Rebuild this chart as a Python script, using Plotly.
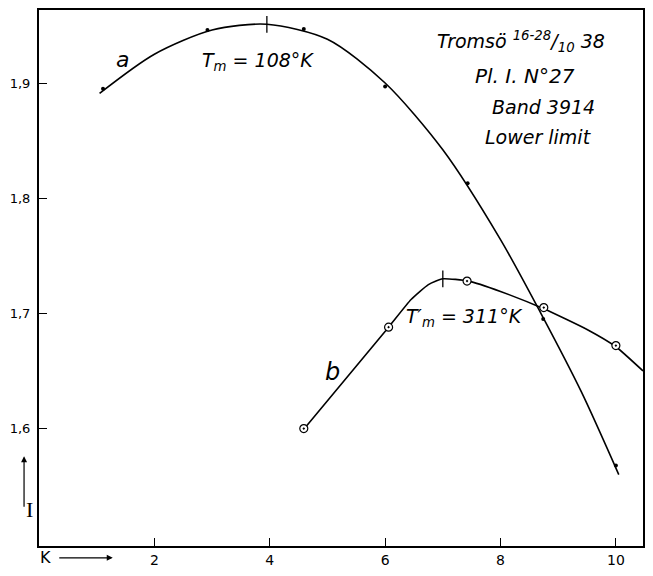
import plotly.graph_objects as go

# ---- data ----
# curve a (smooth drawn curve) and its measured points
a_curve_x = [1.05, 2.0, 3.0, 3.95, 5.0, 6.0, 7.0, 8.0, 8.7, 9.4, 10.05]
a_curve_y = [1.891, 1.925, 1.946, 1.951, 1.938, 1.900, 1.842, 1.764, 1.700, 1.632, 1.560]
a_pts_x = [1.11, 2.92, 4.59, 6.0, 7.43, 8.74, 10.0]
a_pts_y = [1.895, 1.946, 1.947, 1.897, 1.813, 1.695, 1.568]
a_max_x = [3.95]
a_max_y = [1.951]

# curve b (smooth drawn curve) and its measured points
b_curve_x = [4.55, 6.06, 6.45, 6.75, 7.0, 7.45, 8.0, 8.75, 9.5, 10.0, 10.47]
b_curve_y = [1.597, 1.688, 1.712, 1.725, 1.730, 1.728, 1.719, 1.704, 1.686, 1.671, 1.650]
b_pts_x = [4.59, 6.06, 7.42, 8.75, 10.0]
b_pts_y = [1.600, 1.688, 1.728, 1.705, 1.672]
b_max_x = [7.0]
b_max_y = [1.730]

x_ticks = [2, 4, 6, 8, 10]
x_ticktext = ["2", "4", "6", "8", "10"]
y_ticks = [1.6, 1.7, 1.8, 1.9]
y_ticktext = ["1,6", "1,7", "1,8", "1,9"]

W, H = 653, 576
L, R, T, B = 39, 645, 10, 553


def px(xp, yp):
    return (xp - L) / (R - L), (B - yp) / (B - T)


fig = go.Figure()
fig.add_trace(go.Scatter(x=a_curve_x, y=a_curve_y, mode="lines",
                         line=dict(color="black", width=1.6, shape="spline", smoothing=0.8)))
fig.add_trace(go.Scatter(x=b_curve_x, y=b_curve_y, mode="lines",
                         line=dict(color="black", width=1.6, shape="spline", smoothing=0.5)))
fig.add_trace(go.Scatter(x=a_pts_x, y=a_pts_y, mode="markers",
                         marker=dict(symbol="circle", size=4, color="black")))
fig.add_trace(go.Scatter(x=b_pts_x, y=b_pts_y, mode="markers",
                         marker=dict(symbol="circle-dot", size=8, color="white",
                                     line=dict(color="black", width=1.2))))
fig.add_trace(go.Scatter(x=a_max_x + b_max_x, y=a_max_y + b_max_y, mode="markers",
                         marker=dict(symbol="line-ns", size=12,
                                     line=dict(color="black", width=1.3))))

font = "DejaVu Sans, Liberation Sans, sans-serif"
ann = []


def text(xp, yp, s, size, anchor="center"):
    xx, yy = px(xp, yp)
    ann.append(dict(x=xx, y=yy, xref="paper", yref="paper", text=s, showarrow=False,
                    xanchor=anchor, yanchor="middle",
                    font=dict(family=font, size=size, color="black")))


text(123, 60, "<i>a</i>", 22)
text(259, 62, "<i>T<sub>m</sub> = 108°K</i>", 19)
text(333, 377, "<i>b</i>", 24)
text(466, 322, "<i>T′<sub>m</sub> = 311°K</i>", 19)
text(523, 42, "<i>Tromsö <sup>16-28</sup>/<sub>10</sub> 38</i>", 19)
text(527, 77, "<i>Pl. I. N°27</i>", 20)
text(545, 108, "<i>Band 3914</i>", 19)
text(540, 139, "<i>Lower limit</i>", 19)
text(46, 565, "K", 16)

# vertical arrow with I
xx, yy = px(24, 462)
ann.append(dict(x=xx, y=yy, xref="paper", yref="paper", text="", showarrow=True,
                ax=0, ay=52, arrowhead=2, arrowsize=1, arrowwidth=1.2, arrowcolor="black"))
xx, yy = px(24, 531)
ann.append(dict(x=xx, y=yy, xref="paper", yref="paper", text="I", showarrow=False,
                font=dict(family="Liberation Serif, serif", size=22, color="black")))
# horizontal arrow after K
xx, yy = px(113, 565)
ann.append(dict(x=xx, y=yy, xref="paper", yref="paper", text="", showarrow=True,
                ax=-55, ay=0, arrowhead=2, arrowsize=1, arrowwidth=1.2, arrowcolor="black"))

fig.update_layout(
    width=W, height=H,
    margin=dict(l=L, r=W - R, t=T, b=H - B),
    paper_bgcolor="white", plot_bgcolor="white",
    showlegend=False,
    annotations=ann,
    xaxis=dict(range=[0, 10.47], tickvals=x_ticks, ticktext=x_ticktext,
               ticks="inside", ticklen=8, tickwidth=1.2, tickcolor="black",
               showgrid=False, zeroline=False, showline=True, linecolor="black",
               linewidth=2, mirror=True,
               tickfont=dict(family=font, size=14, color="black")),
    yaxis=dict(range=[1.498, 1.9634], tickvals=y_ticks, ticktext=y_ticktext,
               ticks="inside", ticklen=8, tickwidth=1.2, tickcolor="black",
               showgrid=False, zeroline=False, showline=True, linecolor="black",
               linewidth=2, mirror=True, ticklabelstandoff=4,
               tickfont=dict(family=font, size=13, color="black")),
)

fig.write_html("out.html")
